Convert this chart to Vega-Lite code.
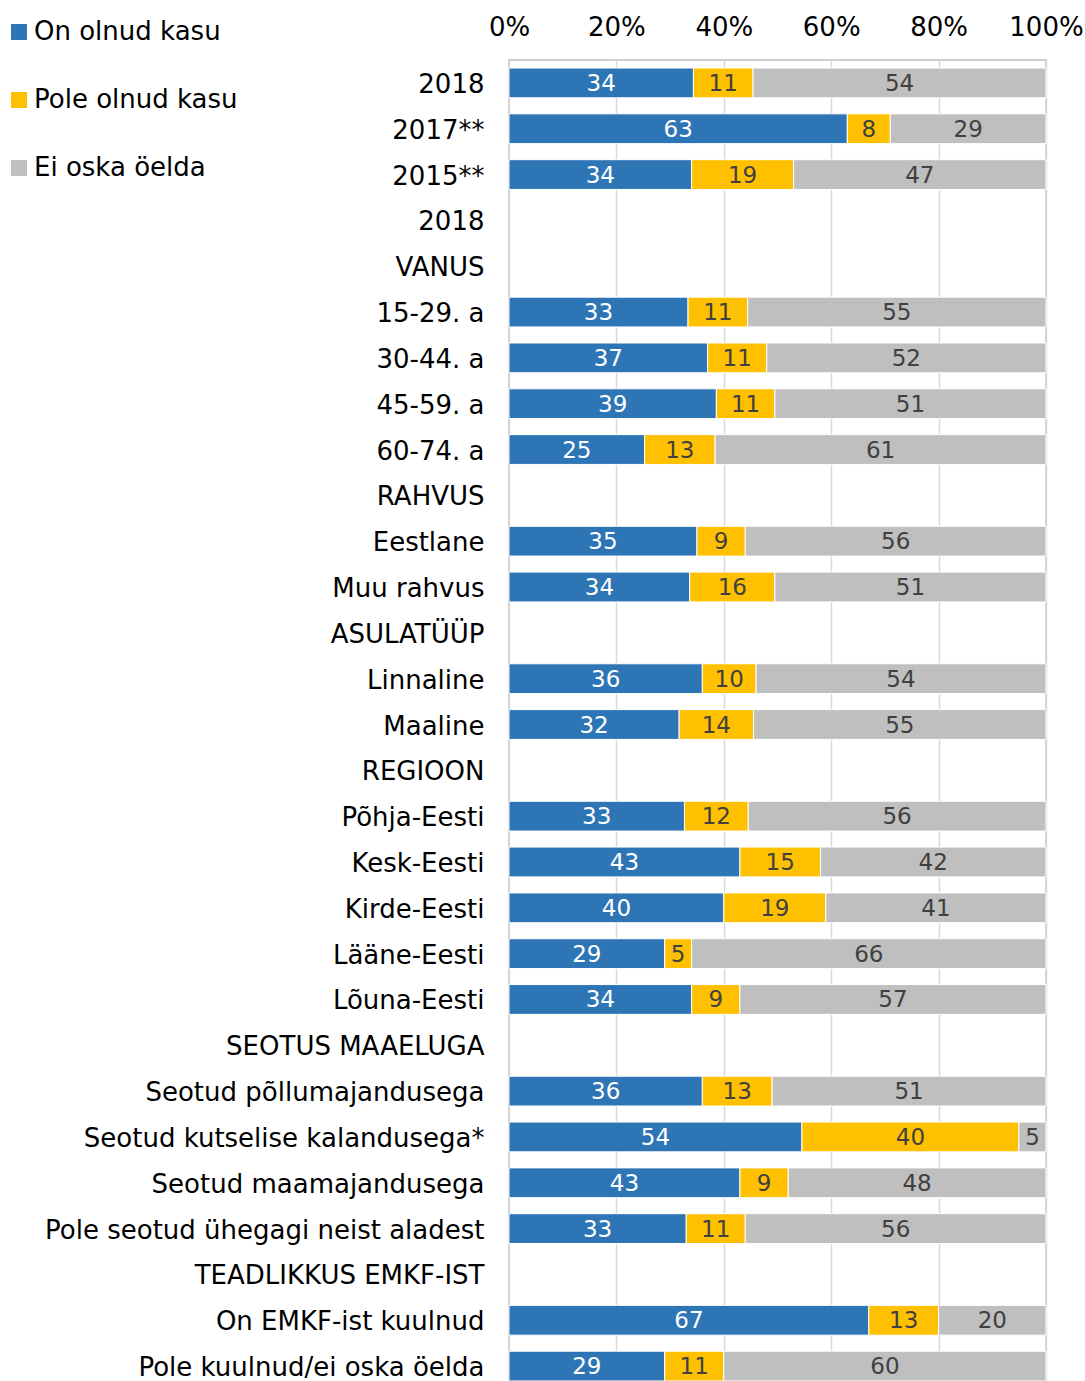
{
  "$schema": "https://vega.github.io/schema/vega-lite/v6.json",
  "width": 537,
  "height": 1329,
  "autosize": {"type": "none"},
  "padding": {"left": 509, "top": 60, "right": 39, "bottom": 0},
  "background": "white",
  "config": {
    "font": "DejaVu Sans",
    "view": {"stroke": "#bfbfbf", "strokeWidth": 1.5},
    "axis": {"labelColor": "black", "labelFontSize": 26, "ticks": false, "domain": false, "title": null}
  },
  "datasets": {
    "segs": [
      {"seg": "On olnud kasu", "ord": 1},
      {"seg": "Pole olnud kasu", "ord": 2},
      {"seg": "Ei oska öelda", "ord": 3}
    ]
  },
  "data": {
    "values": [
      {"cat": "01|2018", "On olnud kasu": 34, "Pole olnud kasu": 11, "Ei oska öelda": 54},
      {"cat": "02|2017**", "On olnud kasu": 63, "Pole olnud kasu": 8, "Ei oska öelda": 29},
      {"cat": "03|2015**", "On olnud kasu": 34, "Pole olnud kasu": 19, "Ei oska öelda": 47},
      {"cat": "06|15-29. a", "On olnud kasu": 33, "Pole olnud kasu": 11, "Ei oska öelda": 55},
      {"cat": "07|30-44. a", "On olnud kasu": 37, "Pole olnud kasu": 11, "Ei oska öelda": 52},
      {"cat": "08|45-59. a", "On olnud kasu": 39, "Pole olnud kasu": 11, "Ei oska öelda": 51},
      {"cat": "09|60-74. a", "On olnud kasu": 25, "Pole olnud kasu": 13, "Ei oska öelda": 61},
      {"cat": "11|Eestlane", "On olnud kasu": 35, "Pole olnud kasu": 9, "Ei oska öelda": 56},
      {"cat": "12|Muu rahvus", "On olnud kasu": 34, "Pole olnud kasu": 16, "Ei oska öelda": 51},
      {"cat": "14|Linnaline", "On olnud kasu": 36, "Pole olnud kasu": 10, "Ei oska öelda": 54},
      {"cat": "15|Maaline", "On olnud kasu": 32, "Pole olnud kasu": 14, "Ei oska öelda": 55},
      {"cat": "17|Põhja-Eesti", "On olnud kasu": 33, "Pole olnud kasu": 12, "Ei oska öelda": 56},
      {"cat": "18|Kesk-Eesti", "On olnud kasu": 43, "Pole olnud kasu": 15, "Ei oska öelda": 42},
      {"cat": "19|Kirde-Eesti", "On olnud kasu": 40, "Pole olnud kasu": 19, "Ei oska öelda": 41},
      {"cat": "20|Lääne-Eesti", "On olnud kasu": 29, "Pole olnud kasu": 5, "Ei oska öelda": 66},
      {"cat": "21|Lõuna-Eesti", "On olnud kasu": 34, "Pole olnud kasu": 9, "Ei oska öelda": 57},
      {"cat": "23|Seotud põllumajandusega", "On olnud kasu": 36, "Pole olnud kasu": 13, "Ei oska öelda": 51},
      {"cat": "24|Seotud kutselise kalandusega*", "On olnud kasu": 54, "Pole olnud kasu": 40, "Ei oska öelda": 5},
      {"cat": "25|Seotud maamajandusega", "On olnud kasu": 43, "Pole olnud kasu": 9, "Ei oska öelda": 48},
      {"cat": "26|Pole seotud ühegagi neist aladest", "On olnud kasu": 33, "Pole olnud kasu": 11, "Ei oska öelda": 56},
      {"cat": "28|On EMKF-ist kuulnud", "On olnud kasu": 67, "Pole olnud kasu": 13, "Ei oska öelda": 20},
      {"cat": "29|Pole kuulnud/ei oska öelda", "On olnud kasu": 29, "Pole olnud kasu": 11, "Ei oska öelda": 60}
    ]
  },
  "transform": [
    {"fold": ["On olnud kasu", "Pole olnud kasu", "Ei oska öelda"], "as": ["seg", "val"]},
    {"lookup": "seg", "from": {"data": {"name": "segs"}, "key": "seg", "fields": ["ord"]}},
    {"stack": "val", "groupby": ["cat"], "sort": [{"field": "ord", "order": "ascending"}], "offset": "normalize", "as": ["v0", "v1"]}
  ],
  "encoding": {
    "y": {
      "field": "cat",
      "type": "nominal",
      "scale": {
        "domain": ["01|2018", "02|2017**", "03|2015**", "04|2018", "05|VANUS", "06|15-29. a", "07|30-44. a", "08|45-59. a", "09|60-74. a", "10|RAHVUS", "11|Eestlane", "12|Muu rahvus", "13|ASULATÜÜP", "14|Linnaline", "15|Maaline", "16|REGIOON", "17|Põhja-Eesti", "18|Kesk-Eesti", "19|Kirde-Eesti", "20|Lääne-Eesti", "21|Lõuna-Eesti", "22|SEOTUS MAAELUGA", "23|Seotud põllumajandusega", "24|Seotud kutselise kalandusega*", "25|Seotud maamajandusega", "26|Pole seotud ühegagi neist aladest", "27|TEADLIKKUS EMKF-IST", "28|On EMKF-ist kuulnud", "29|Pole kuulnud/ei oska öelda"],
        "paddingInner": 0.35,
        "paddingOuter": 0.175
      },
      "axis": {"labelExpr": "split(datum.value, '|')[1]", "labelPadding": 25, "labelLimit": 0, "labelOffset": 2, "grid": false}
    }
  },
  "layer": [
    {
      "mark": {"type": "bar", "stroke": "white", "strokeWidth": 1},
      "encoding": {
        "x": {
          "field": "v0",
          "type": "quantitative",
          "scale": {"domain": [0, 1], "nice": false},
          "axis": {"orient": "top", "format": ".0%", "values": [0, 0.2, 0.4, 0.6, 0.8, 1], "grid": true, "gridColor": "#d9d9d9", "gridWidth": 1.5, "labelPadding": 20, "labelFlush": false, "labelOverlap": false}
        },
        "x2": {"field": "v1"},
        "color": {
          "field": "seg",
          "type": "nominal",
          "scale": {"domain": ["On olnud kasu", "Pole olnud kasu", "Ei oska öelda"], "range": ["#2e75b6", "#ffc000", "#bfbfbf"]},
          "legend": {"orient": "none", "legendX": -503, "legendY": -41, "title": null, "symbolType": "square", "symbolSize": 256, "symbolStrokeWidth": 0, "labelFontSize": 26, "labelColor": "black", "rowPadding": 42, "labelOffset": 2, "labelLimit": 0}
        }
      }
    },
    {
      "transform": [
        {"fold": ["v0", "v1"], "as": ["k", "p"]},
        {"aggregate": [{"op": "mean", "field": "p", "as": "mid"}], "groupby": ["cat", "seg", "val"]}
      ],
      "mark": {"type": "text", "fontSize": 23, "baseline": "middle", "align": "center", "dy": 1},
      "encoding": {
        "x": {"field": "mid", "type": "quantitative"},
        "text": {"field": "val", "type": "quantitative"},
        "color": {"condition": {"test": "datum.seg === 'On olnud kasu'", "value": "white"}, "value": "#404040"}
      }
    }
  ]
}
